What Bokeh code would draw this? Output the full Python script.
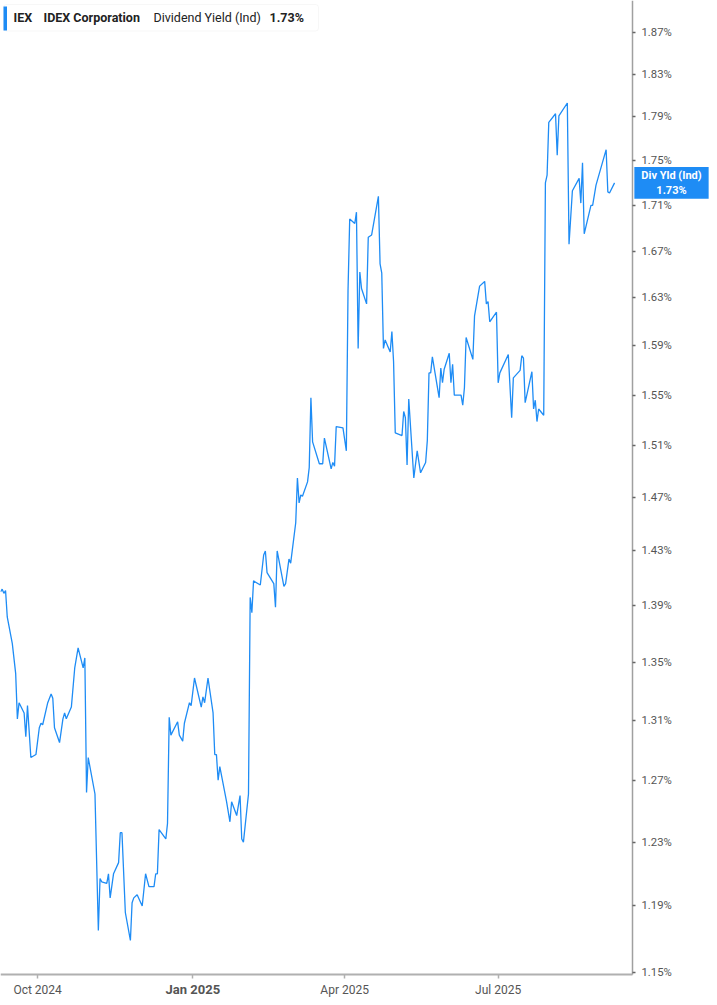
import pandas as pd
from bokeh.plotting import figure
from bokeh.models import (Range1d, FixedTicker, PrintfTickFormatter, CustomJSTickFormatter,
                          Label, BoxAnnotation, ColumnDataSource)
from bokeh.embed import file_html
from bokeh.resources import INLINE

# ---------------- data ----------------
dates = [
    "2024-09-09", "2024-09-10", "2024-09-11", "2024-09-12", "2024-09-13", "2024-09-16", "2024-09-18",
    "2024-09-19", "2024-09-20", "2024-09-23", "2024-09-24", "2024-09-25", "2024-09-27", "2024-09-30",
    "2024-10-02", "2024-10-03", "2024-10-04", "2024-10-07", "2024-10-09", "2024-10-10", "2024-10-11",
    "2024-10-14", "2024-10-16", "2024-10-17", "2024-10-18", "2024-10-21", "2024-10-23", "2024-10-25",
    "2024-10-28", "2024-10-29", "2024-10-30", "2024-10-31",
    "2024-11-04", "2024-11-06", "2024-11-07", "2024-11-08", "2024-11-11", "2024-11-12", "2024-11-13",
    "2024-11-15", "2024-11-18", "2024-11-19", "2024-11-20", "2024-11-22", "2024-11-25", "2024-11-26",
    "2024-11-27", "2024-11-29",
    "2024-12-02", "2024-12-04", "2024-12-06", "2024-12-09", "2024-12-10", "2024-12-11", "2024-12-12",
    "2024-12-16", "2024-12-17", "2024-12-18", "2024-12-19", "2024-12-23", "2024-12-24", "2024-12-26",
    "2024-12-27", "2024-12-30", "2024-12-31",
    "2025-01-02", "2025-01-06", "2025-01-07", "2025-01-08", "2025-01-10", "2025-01-13", "2025-01-14",
    "2025-01-15", "2025-01-16", "2025-01-17", "2025-01-21", "2025-01-23", "2025-01-24", "2025-01-27",
    "2025-01-29", "2025-01-30", "2025-01-31",
    "2025-02-03", "2025-02-04", "2025-02-05", "2025-02-06", "2025-02-10", "2025-02-12", "2025-02-13",
    "2025-02-14", "2025-02-18", "2025-02-19", "2025-02-20", "2025-02-24", "2025-02-25", "2025-02-27",
    "2025-02-28",
    "2025-03-03", "2025-03-04", "2025-03-05", "2025-03-06", "2025-03-07", "2025-03-10", "2025-03-11",
    "2025-03-12", "2025-03-13", "2025-03-17", "2025-03-19", "2025-03-20", "2025-03-24", "2025-03-25",
    "2025-03-26", "2025-03-27", "2025-03-31",
    "2025-04-02", "2025-04-03", "2025-04-04", "2025-04-07", "2025-04-08", "2025-04-09", "2025-04-10",
    "2025-04-11", "2025-04-14", "2025-04-15", "2025-04-17", "2025-04-21", "2025-04-22", "2025-04-23",
    "2025-04-24", "2025-04-25", "2025-04-28", "2025-04-29", "2025-04-30",
    "2025-05-01", "2025-05-05", "2025-05-06", "2025-05-07", "2025-05-08", "2025-05-09", "2025-05-12",
    "2025-05-14", "2025-05-16", "2025-05-19", "2025-05-20", "2025-05-21", "2025-05-22", "2025-05-23",
    "2025-05-27", "2025-05-28", "2025-05-29", "2025-05-30",
    "2025-06-02", "2025-06-03", "2025-06-04", "2025-06-05", "2025-06-09", "2025-06-10", "2025-06-11",
    "2025-06-12", "2025-06-16", "2025-06-17", "2025-06-20", "2025-06-23", "2025-06-24", "2025-06-25",
    "2025-06-26", "2025-06-30",
    "2025-07-01", "2025-07-02", "2025-07-07", "2025-07-09", "2025-07-10", "2025-07-14", "2025-07-15",
    "2025-07-16", "2025-07-17", "2025-07-21", "2025-07-22", "2025-07-23", "2025-07-24", "2025-07-25",
    "2025-07-28", "2025-07-29", "2025-07-30", "2025-07-31",
    "2025-08-04", "2025-08-05", "2025-08-06", "2025-08-11", "2025-08-12", "2025-08-14", "2025-08-18",
    "2025-08-19", "2025-08-20", "2025-08-21", "2025-08-25", "2025-08-26", "2025-08-28",
    "2025-09-03", "2025-09-04", "2025-09-05", "2025-09-08",
]

div_yield = [
    1.400, 1.402, 1.399, 1.401, 1.382, 1.363, 1.342, 1.311, 1.322, 1.315, 1.299, 1.320, 1.285, 1.287,
    1.305, 1.308, 1.307, 1.322, 1.328, 1.325, 1.305, 1.295, 1.311, 1.315, 1.311, 1.319, 1.346, 1.360,
    1.346, 1.353, 1.262, 1.285,
    1.261, 1.175, 1.207, 1.205, 1.204, 1.210, 1.195, 1.210, 1.217, 1.236, 1.236, 1.186, 1.169, 1.192,
    1.195, 1.197,
    1.190, 1.210, 1.202, 1.202, 1.210, 1.210, 1.238, 1.232, 1.242, 1.312, 1.300, 1.309, 1.300, 1.296,
    1.308, 1.322, 1.320,
    1.339, 1.319, 1.326, 1.322, 1.339, 1.315, 1.287, 1.287, 1.270, 1.279, 1.256, 1.243, 1.256, 1.247,
    1.260, 1.232, 1.230,
    1.261, 1.396, 1.385, 1.408, 1.405, 1.427, 1.430, 1.414, 1.406, 1.389, 1.430, 1.404, 1.406, 1.424,
    1.421,
    1.451, 1.485, 1.466, 1.472, 1.471, 1.482, 1.493, 1.548, 1.513, 1.496, 1.496, 1.516, 1.492, 1.497,
    1.494, 1.525, 1.524,
    1.506, 1.636, 1.698, 1.694, 1.704, 1.588, 1.652, 1.638, 1.625, 1.682, 1.684, 1.718, 1.659, 1.651,
    1.588, 1.595, 1.585, 1.602, 1.577,
    1.520, 1.518, 1.537, 1.532, 1.495, 1.547, 1.485, 1.506, 1.489, 1.497, 1.514, 1.568, 1.568, 1.581,
    1.548, 1.572, 1.560, 1.571,
    1.584, 1.560, 1.575, 1.550, 1.550, 1.542, 1.556, 1.597, 1.579, 1.615, 1.640, 1.644, 1.625, 1.627,
    1.610, 1.618,
    1.560, 1.568, 1.583, 1.532, 1.564, 1.570, 1.582, 1.580, 1.544, 1.569, 1.539, 1.546, 1.529, 1.539,
    1.534, 1.730, 1.737, 1.785,
    1.793, 1.755, 1.791, 1.803, 1.676, 1.723, 1.734, 1.712, 1.748, 1.685, 1.710, 1.710, 1.728,
    1.760, 1.722, 1.721, 1.730,
]

y_ticks = [1.15, 1.19, 1.23, 1.27, 1.31, 1.35, 1.39, 1.43, 1.47, 1.51, 1.55, 1.59, 1.63, 1.67,
           1.71, 1.75, 1.79, 1.83, 1.87]
x_tick_dates = ["2024-10-01", "2025-01-01", "2025-04-01", "2025-07-01"]
x_tick_labels = ["Oct 2024", "Jan 2025", "Apr 2025", "Jul 2025"]
x_tick_bold = [False, True, False, False]

ticker_symbol = "IEX"
company_name = "IDEX Corporation"
metric_name = "Dividend Yield (Ind)"
metric_short = "Div Yld (Ind)"
current_value = div_yield[-1]

# ---------------- layout helpers (canvas pixel -> data space) ----------------
ORIGIN = pd.Timestamp("2024-09-09")
PX_PER_DAY = 1.687
LOG_TOP = 0.27903
PX_PER_DECADE = 4450.0
W, H = 709, 997
AXIS_X_PX = 632     # where the value axis sits
AXIS_Y_PX = 974     # where the date axis sits


def px_to_x(px):
    return (ORIGIN + pd.Timedelta(days=px / PX_PER_DAY)).value / 1e6


def py_to_y(py):
    return 10 ** (LOG_TOP - py / PX_PER_DECADE)


BLUE = "#1e8cf5"
AXIS_TEXT = "#555555"
FONT = "Roboto"

src = ColumnDataSource(data=dict(date=pd.to_datetime(dates), value=div_yield))

p = figure(width=W, height=H, x_axis_type="datetime", y_axis_type="log",
           y_axis_location="right",
           x_range=Range1d(px_to_x(0), px_to_x(W)),
           y_range=Range1d(py_to_y(H), py_to_y(0)),
           output_backend="svg", toolbar_location=None,
           min_border_left=0, min_border_top=0, min_border_right=0, min_border_bottom=0,
           background_fill_color="white", border_fill_color="white",
           outline_line_color=None)

p.grid.visible = False

p.line("date", "value", source=src, line_color=BLUE, line_width=1.3)

# right (value) axis, fixed inside the canvas
ya = p.yaxis[0]
ya.fixed_location = px_to_x(AXIS_X_PX)
ya.bounds = (py_to_y(AXIS_Y_PX), py_to_y(0))
ya.ticker = FixedTicker(ticks=y_ticks, minor_ticks=[])
ya.formatter = PrintfTickFormatter(format="%.2f%%")
ya.axis_line_color = "#a0a0a0"
ya.axis_line_width = 1.5
ya.major_tick_out = 3
ya.major_tick_in = 0
ya.major_tick_line_color = "#666666"
ya.major_tick_line_width = 1.5
ya.minor_tick_line_color = None
ya.major_label_text_font = FONT
ya.major_label_text_font_size = "11.3px"
ya.major_label_text_color = AXIS_TEXT
ya.major_label_standoff = 6

# bottom (date) axis, fixed inside the canvas
tick_ms = [pd.Timestamp(d).value / 1e6 for d in x_tick_dates]
xa = p.xaxis[0]
xa.fixed_location = py_to_y(AXIS_Y_PX)
xa.bounds = (px_to_x(0), px_to_x(AXIS_X_PX))
xa.ticker = FixedTicker(ticks=tick_ms, minor_ticks=[])
xa.formatter = CustomJSTickFormatter(
    args=dict(tick_vals=tick_ms, tick_texts=x_tick_labels, tick_bold=x_tick_bold),
    code="""
        for (let i = 0; i < tick_vals.length; i++) {
            if (Math.abs(tick_vals[i] - tick) < 1000) { return tick_bold[i] ? "" : tick_texts[i]; }
        }
        return "";
    """)
xa.axis_line_color = "#b0b0b0"
xa.axis_line_width = 2
xa.major_tick_out = 4
xa.major_tick_in = 0
xa.major_tick_line_color = "#b0b0b0"
xa.major_tick_line_width = 1.5
xa.minor_tick_line_color = None
xa.major_label_text_font = FONT
xa.major_label_text_font_size = "12px"
xa.major_label_text_color = AXIS_TEXT
xa.major_label_standoff = 4

for ms, lab, b in zip(tick_ms, x_tick_labels, x_tick_bold):
    if b:
        p.add_layout(Label(x=ms, y=py_to_y(988.5), text=lab, text_align="center",
                           text_baseline="middle", text_font=FONT, text_font_size="13px",
                           text_font_style="bold", text_color=AXIS_TEXT))

# legend box at the top left
p.add_layout(BoxAnnotation(left=px_to_x(3), right=px_to_x(318), top=py_to_y(4),
                           bottom=py_to_y(30.5), fill_color="white", fill_alpha=1.0,
                           line_color="#e4e4e4", line_width=1, border_radius=3))
p.add_layout(BoxAnnotation(left=px_to_x(3), right=px_to_x(6.5), top=py_to_y(6),
                           bottom=py_to_y(30), fill_color=BLUE, fill_alpha=1.0,
                           line_color=None))
legend_items = [
    (ticker_symbol, 13, "bold"),
    (company_name, 43, "bold"),
    (metric_name, 153, "normal"),
    (f"{current_value:.2f}%", 269, "bold"),
]
for txt, px, style in legend_items:
    p.add_layout(Label(x=px_to_x(px), y=py_to_y(17), text=txt, text_align="left",
                       text_baseline="middle", text_font=FONT, text_font_size="12.5px",
                       text_font_style=style, text_color="#222222"))

# current value tag on the right axis
p.add_layout(Label(x=px_to_x((AXIS_X_PX + 1 + W) / 2), y=current_value,
                   text=f"{metric_short}\n{current_value:.2f}%",
                   text_align="center", text_baseline="middle", text_font=FONT,
                   text_font_size="11px", text_font_style="bold", text_color="white",
                   text_line_height=1.15,
                   background_fill_color=BLUE, background_fill_alpha=1.0,
                   padding=(7, 2)))

open("out.html", "w").write(file_html(p, INLINE))
